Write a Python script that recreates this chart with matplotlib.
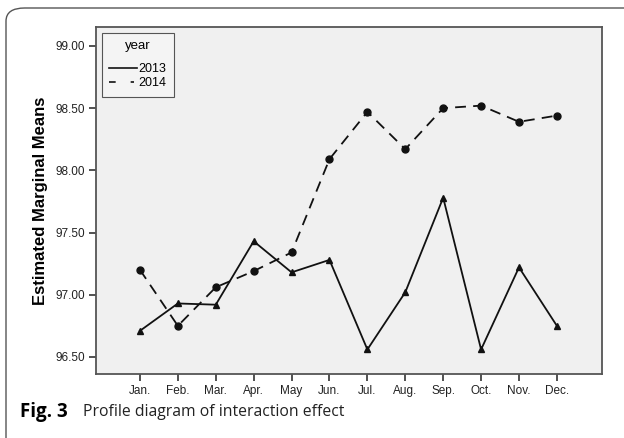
import numpy as np
from matplotlib import pyplot as plt
from matplotlib.patches import FancyBboxPatch
from matplotlib.lines import Line2D

months = ['Jan.', 'Feb.', 'Mar.', 'Apr.', 'May', 'Jun.', 'Jul.', 'Aug.', 'Sep.', 'Oct.', 'Nov.', 'Dec.']
means_2013 = [96.71, 96.93, 96.92, 97.43, 97.18, 97.28, 96.56, 97.02, 97.78, 96.56, 97.22, 96.75]
means_2014 = [97.20, 96.75, 97.06, 97.19, 97.34, 98.09, 98.47, 98.17, 98.50, 98.52, 98.39, 98.44]
y_ticks = [96.5, 97.0, 97.5, 98.0, 98.5, 99.0]

plt.rcParams['font.family'] = ['Liberation Sans', 'DejaVu Sans']

fig = plt.figure(figsize=(6.24, 4.38), dpi=100)

# rounded outer frame
frame = FancyBboxPatch((6/624, -0.05), 640/624, 1.05 - 8/438,
                       boxstyle='round,pad=0,rounding_size=0.03',
                       transform=fig.transFigure, fill=False,
                       edgecolor='#555555', linewidth=1.0, clip_on=False)
fig.patches.append(frame)

ax = fig.add_axes([96/624, 1 - 374/438, 506/624, 347/438])
ax.set_facecolor('#f0f0f0')

x = np.arange(len(months))
ax.plot(x, means_2013, color='#111111', lw=1.3, marker='^', ms=5)
ax.plot(x, means_2014, color='#111111', lw=1.3, marker='o', ms=5,
        dashes=(6, 4))

ax.set_xlim(-1.16, 12.19)
ax.set_ylim(96.363, 99.152)
ax.set_xticks(x)
ax.set_xticklabels(months, fontsize=8.5, color='#222222')
ax.set_yticks(y_ticks)
ax.set_yticklabels(['%.2f' % v for v in y_ticks], fontsize=8.5, color='#222222')
ax.tick_params(length=5, width=1.2, color='#333333', pad=3)
for s in ax.spines.values():
    s.set_color('#555555')
    s.set_linewidth(1.3)

ax.set_ylabel('Estimated Marginal Means', fontsize=12, fontweight='bold',
              labelpad=5)

handles = [Line2D([], [], color='#111111', lw=1.2),
           Line2D([], [], color='#111111', lw=1.2, dashes=(4, 9, 2, 9))]
leg = ax.legend(handles, ['2013', '2014'], title='year', loc='upper left',
                fontsize=9, title_fontsize=9.5, frameon=True, fancybox=False,
                edgecolor='#555555', facecolor='#f4f4f4', handlelength=2.2,
                borderaxespad=0.45, handletextpad=0.15, labelspacing=0.15,
                borderpad=0.6, framealpha=1)
leg.get_frame().set_linewidth(0.8)
leg._legend_box.sep = 8

fig.text(20/624, 1 - 412/438, 'Fig. 3', fontsize=13.5, fontweight='bold',
         family='Open Sans', va='center', ha='left')
fig.text(83/624, 1 - 412/438, 'Profile diagram of interaction effect',
         fontsize=11.3, family='Open Sans', va='center', ha='left',
         color='#222222')

fig.savefig('out.png', dpi=100)
